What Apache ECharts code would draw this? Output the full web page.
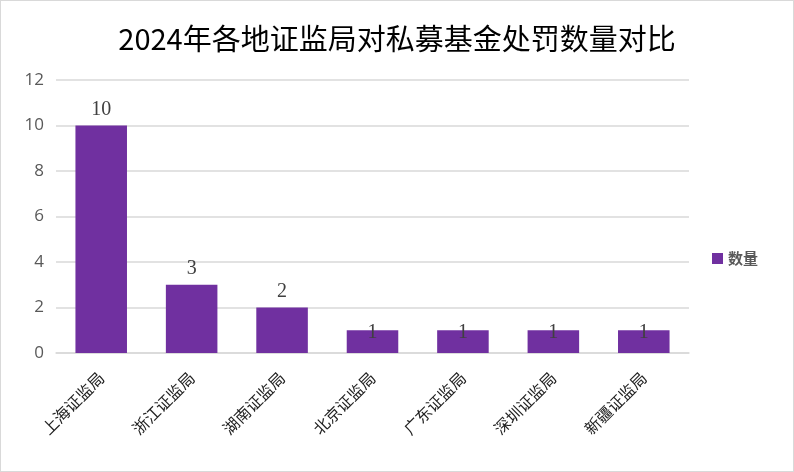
<!DOCTYPE html>
<html>
<head>
<meta charset="utf-8">
<script src="https://cdn.jsdelivr.net/npm/echarts@6/dist/echarts.min.js"></script>
<style>
  html, body { margin: 0; padding: 0; background: #fff; }
  #chart { width: 792px; height: 470px; border: 1px solid #d9d9d9; }
</style>
</head>
<body>
<div id="chart"></div>
<script>
const categories = ['上海证监局', '浙江证监局', '湖南证监局', '北京证监局', '广东证监局', '深圳证监局', '新疆证监局'];
const counts = [10, 3, 2, 1, 1, 1, 1];
const yTicks = { min: 0, max: 12, interval: 2 };

const chart = echarts.init(document.getElementById('chart'));
chart.setOption({
  title: {
    text: '2024年各地证监局对私募基金处罚数量对比',
    left: 'center',
    top: 18,
    textStyle: { fontFamily: 'Noto Sans CJK SC', fontSize: 29, fontWeight: 'normal', color: '#000' }
  },
  legend: {
    orient: 'vertical',
    right: 30,
    top: 245,
    itemWidth: 11,
    itemHeight: 11,
    icon: 'rect',
    textStyle: { fontFamily: 'Noto Sans CJK SC', fontSize: 15, fontWeight: 'bold', color: '#595959' }
  },
  grid: { left: 55, right: 104, top: 79, bottom: 118 },
  xAxis: {
    type: 'category',
    data: categories,
    axisLine: { lineStyle: { color: '#d9d9d9', width: 1.5 } },
    axisTick: { show: false },
    axisLabel: {
      rotate: 45,
      interval: 0,
      margin: 22,
      fontFamily: 'Noto Sans CJK SC',
      fontSize: 16,
      color: '#222'
    }
  },
  yAxis: {
    type: 'value',
    min: yTicks.min,
    max: yTicks.max,
    interval: yTicks.interval,
    axisLine: { show: false },
    axisTick: { show: false },
    splitLine: { lineStyle: { color: '#d9d9d9', width: 1.5 } },
    axisLabel: { fontFamily: 'Open Sans', fontSize: 17, color: '#595959', margin: 12 }
  },
  series: [{
    name: '数量',
    type: 'bar',
    barWidth: '57%',
    itemStyle: { color: '#7030A0' },
    data: counts.map(v => v === 1 ? { value: v, label: { offset: [0, 18] } } : v),
    label: {
      show: true,
      position: 'top',
      distance: 6,
      fontFamily: 'Liberation Serif',
      fontSize: 20,
      color: '#404040'
    }
  }]
});
</script>
</body>
</html>
